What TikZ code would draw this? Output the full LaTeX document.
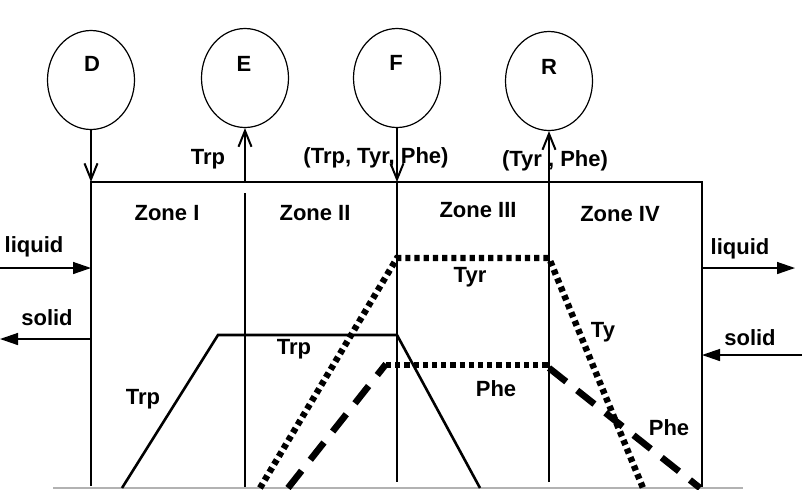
\documentclass[tikz,border=0pt]{standalone}
\usepackage{fontspec}
\setmainfont{Liberation Sans}
\usetikzlibrary{arrows.meta,shapes.geometric}

\begin{document}
\begin{tikzpicture}[
  x=0.5pt,y=-0.5pt,
  every node/.style={font=\fontsize{11}{13}\selectfont\bfseries,inner sep=0pt},
  tank/.style={draw,ellipse,line width=0.6pt,minimum width=43.5pt,minimum height=49.5pt},
  tanklabel/.style={font=\fontsize{11}{13}\selectfont\bfseries},
  wall/.style={line width=1pt},
  flow/.style={line width=1pt,-{Straight Barb[length=8pt,width=6.5pt]}},
  phase/.style={line width=0.7pt,-{Triangle[length=9pt,width=6pt]}},
  trp/.style={line width=1.3pt},
  tyr/.style={line width=3.2pt,dash pattern=on 2.6pt off 2pt},
  phe/.style={line width=3.3pt,dash pattern=on 11pt off 7pt},
]
  \useasboundingbox (0,0) rectangle (802,489);

  % tanks
  \node[tank] (d) at (91,80) {};
  \node[tank] (e) at (245,78) {};
  \node[tank] (f) at (397,78) {};
  \node[tank] (r) at (549,81) {};
  \node[tanklabel] (dlab) at (92,64) {D};
  \node[tanklabel] (elab) at (244,64) {E};
  \node[tanklabel] (flab) at (396,63) {F};
  \node[tanklabel] (rlab) at (549,67) {R};

  % column
  \coordinate (tl) at (91,182);
  \coordinate (tr) at (702,182);
  \coordinate (bl) at (91,486);
  \coordinate (br) at (702,488);
  \coordinate (fbot) at (397,482);
  \coordinate (rbot) at (549,482);
  \draw[wall] (bl) -- (tl) -- (tr) -- (br);
  \draw[wall] (245,193) -- (245,488);
  \draw[gray!60,line width=1pt] (53,488) -- (743,488);

  % feeds and outlets
  \draw[flow] (d) -- (d |- tl);
  \draw[flow] (e |- tl) -- (e);
  \draw[flow] (f) -- (f |- tl);
  \draw[wall] (f |- tl) -- (fbot);
  \draw[flow] (rbot) -- (r);
  \node (trpout) at (208,159) {Trp};
  \node (mixin) at (376,158) {(Trp, Tyr, Phe)};
  \node (mixout) at (555,161) {(Tyr , Phe)};

  % zones
  \node (zone1) at (167,213) {Zone I};
  \node (zone2) at (315,213) {Zone II};
  \node (zone3) at (478,210) {Zone III};
  \node (zone4) at (620,214) {Zone IV};

  % liquid and solid streams
  \coordinate (liqin) at (0,268);
  \coordinate (solout) at (0,339);
  \coordinate (liqout) at (795,268);
  \coordinate (solin) at (802,355);
  \draw[phase] (liqin) -- (liqin -| tl);
  \draw[phase] (solout -| tl) -- (solout);
  \draw[phase] (liqout -| tr) -- (liqout);
  \draw[phase] (solin) -- (solin -| tr);
  \node (liqinlab) at (34,247) {liquid};
  \node (soloutlab) at (47,318) {solid};
  \node (liqoutlab) at (740,249) {liquid};
  \node (solinlab) at (750,338) {solid};

  % profiles
  \draw[trp] (122,488) -- (218,335) -- (397,335) -- (480,488);
  \draw[tyr] (260,488) -- (397,258) -- (549,258) -- (643,488);
  \draw[phe] (288,488) -- (386,364);
  \draw[tyr] (386,365) -- (549,365);
  \draw[phe] (549,368) -- (700,488);
  \node (trp1) at (143,399) {Trp};
  \node (trp2) at (294,349) {Trp};
  \node (tyr1) at (470,277) {Tyr};
  \node (tyr2) at (603,332) {Ty};
  \node (phe1) at (496,389) {Phe};
  \node (phe2) at (669,428) {Phe};
\end{tikzpicture}
\end{document}
